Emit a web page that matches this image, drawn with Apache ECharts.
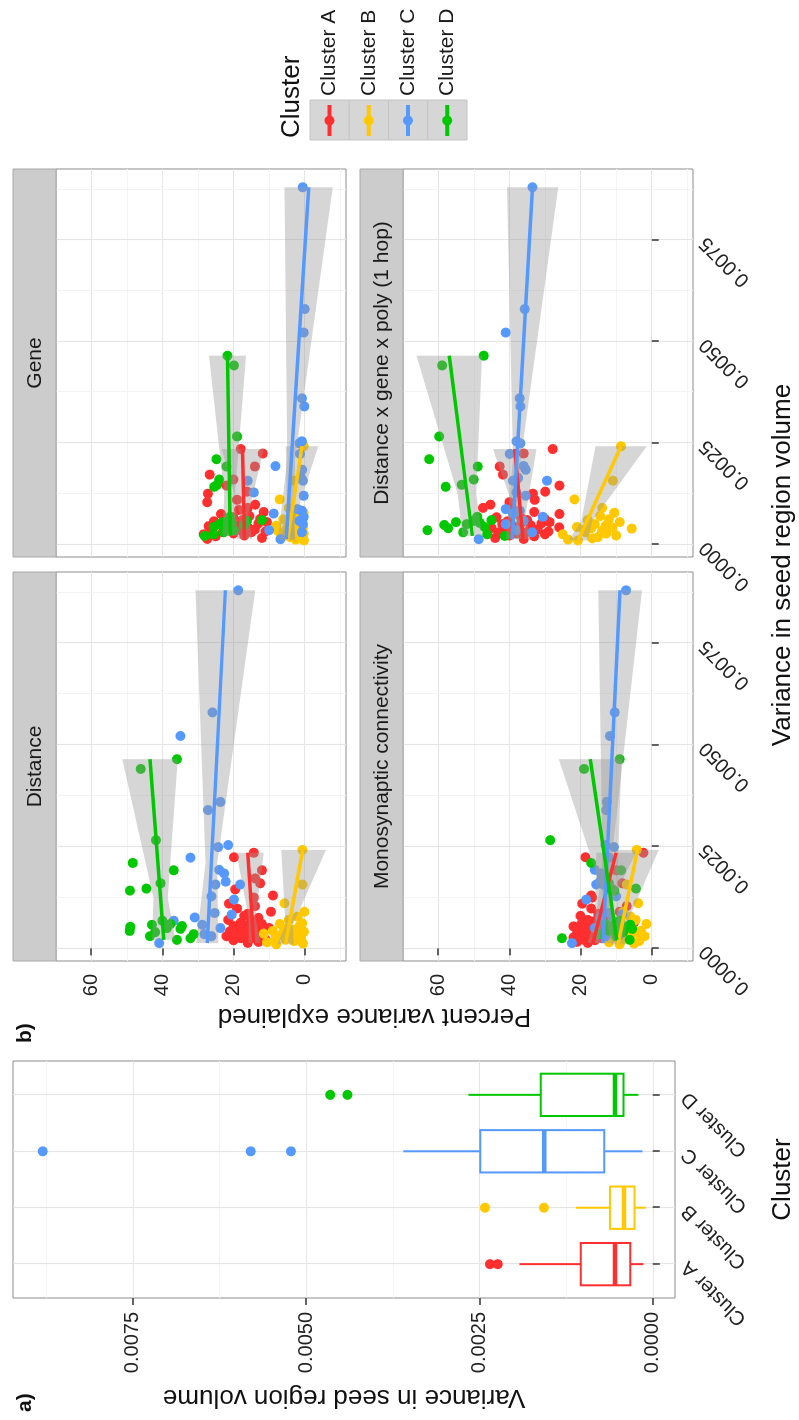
<!DOCTYPE html>
<html>
<head>
<meta charset="utf-8">
<script src="https://cdn.jsdelivr.net/npm/echarts@6/dist/echarts.min.js"></script>
<style>
  html, body { margin: 0; padding: 0; width: 799px; height: 1420px; overflow: hidden; background: #fff; }
  /* the figure is laid out landscape, then turned a quarter turn counter-clockwise */
  #chart { position: absolute; left: 0; top: 0; width: 1420px; height: 799px;
           transform-origin: 0 0; transform: translate(0, 1420px) rotate(-90deg); }
</style>
</head>
<body>
<div id="chart"></div>
<script>
const clusters = ['Cluster A', 'Cluster B', 'Cluster C', 'Cluster D']
const colors = ['#ff2f2f', '#ffc800', '#5599ff', '#00c800']

// variance in seed region volume, one value per sample
const varA = [0.000135, 0.00016, 0.0002, 0.00022, 0.00025, 0.00027, 0.0003, 0.00031, 0.00032, 0.00033, 0.00035, 0.00037, 0.0004, 0.00042, 0.00045, 0.00047, 0.0005, 0.00052, 0.00054, 0.00055, 0.00057, 0.0006, 0.00063, 0.00067, 0.0007, 0.00075, 0.0008, 0.00085, 0.0009, 0.00098, 0.00104, 0.0011, 0.00125, 0.0013, 0.00145, 0.0016, 0.00172, 0.00192, 0.00224, 0.00235]
const varB = [0.0001, 0.00012, 0.00015, 0.00018, 0.00022, 0.00025, 0.00027, 0.0003, 0.00033, 0.00036, 0.00039, 0.0004, 0.00041, 0.00043, 0.00046, 0.0005, 0.00055, 0.0006, 0.00062, 0.0007, 0.00078, 0.0009, 0.00111, 0.00157, 0.00242]
const varC = [0.00013, 0.0003, 0.00035, 0.0005, 0.00058, 0.00068, 0.00076, 0.00083, 0.00087, 0.0012, 0.00128, 0.00157, 0.00157, 0.00164, 0.00184, 0.00193, 0.00223, 0.00249, 0.00254, 0.0034, 0.0036, 0.00522, 0.0058, 0.0088]
const varD = [0.00021, 0.00025, 0.0003, 0.00035, 0.0004, 0.00043, 0.00048, 0.0005, 0.00053, 0.00055, 0.00058, 0.0006, 0.00068, 0.00142, 0.00147, 0.0016, 0.00192, 0.0021, 0.00266, 0.00441, 0.00465]

// panel a boxplots: [min, Q1, median, Q3, max] and outliers
const boxA = [0.000135, 0.000327, 0.000544, 0.001039, 0.001924]
const boxB = [0.0001, 0.000265, 0.000414, 0.000616, 0.00111]
const boxC = [0.00015, 0.000702, 0.001568, 0.00249, 0.0036]
const boxD = [0.000208, 0.000424, 0.000544, 0.001616, 0.00266]
const outA = [0.002236, 0.00235]
const outB = [0.00157, 0.00242]
const outC = [0.00522, 0.0058, 0.0088]
const outD = [0.004405, 0.004654]

// percent variance explained, same sample order as varA..varD
const distA = [16, 13, 20, 11, 18, 15, 22, 14, 17, 12, 19, 16, 13, 21, 15, 18, 10, 17, 14, 20, 16, 12, 18, 15, 21.5, 13, 17, 16, 9.5, 19, 14, 21.3, 14.3, 8.9, 19.5, 12.5, 13.9, 12.0, 19.9, 14.3]
const distB = [8, 0.5, 10.6, 3, 5.4, 8.2, 1, 7.8, 4, 11.5, 2.5, 6, 0.2, 9, 3.1, 5, 1.5, 7, 0.7, 4.5, 2, 0.1, 5.7, 0.6, 0.6]
const distC = [40.9, 26.2, 28.2, 23.7, 28.8, 36.8, 30.9, 20.5, 25.3, 19.9, 26.2, 25.1, 18.1, 22.2, 22.6, 24.0, 32.1, 24.3, 21.5, 27.2, 23.7, 34.9, 25.9, 18.7]
const distD = [35.9, 32.1, 43.5, 31.2, 42.0, 49.2, 34.9, 38.7, 49.0, 34.5, 42.9, 37.7, 40.0, 49.1, 44.5, 40.5, 36.8, 48.3, 41.8, 46.1, 35.9]

const geneA = [27.4, 12, 25, 17, 28.4, 20, 15, 23, 11, 26, 18, 14, 22, 16, 27, 19, 24, 13, 21, 10.6, 25.5, 17.5, 12.5, 20, 15.5, 23.5, 11.5, 18.5, 16, 13.9, 27.4, 19, 27.2, 16.2, 22, 20, 26.7, 14, 11.8, 18]
const geneB = [0.2, 2.5, 0.5, 4, 1, 6.5, 0.3, 3, 7.5, 1.5, 0.8, 5, 2, 0.4, 8, 1.2, 3.5, 0.6, 6, 2.2, 0.3, 4.5, 7.0, 3, 0.3]
const geneC = [6.8, 0.8, 10.0, 0.5, 1.5, 0.3, 8.7, 0.8, 2, 0.3, 14.3, 16, 0.5, 1, 0.7, 8.2, 1.3, 1.5, 0.8, 0.1, 0.75, 0.3, 0, 0.56]
const geneD = [28.1, 25.6, 22.8, 19.9, 21.8, 25.6, 17, 24, 20.5, 23, 16.2, 12, 21, 25.4, 24.6, 24, 22, 24.8, 19, 19.9, 21.7]

const monoA = [18, 21, 16, 19.5, 14, 22, 17, 20, 15, 18.5, 16, 21, 19, 17.5, 13, 20, 18, 15.5, 22, 17, 14.5, 19.8, 5, 16, 18, 12, 20, 15, 9, 17, 7, 19.5, 16.7, 17.0, 11, 8.3, 14, 10, 18.6, 2.3]
const monoB = [9, 5, 12, 3.5, 8, 6, 10.5, 2, 7, 11, 4, 8.5, 6.5, 3, 9.5, 5.5, 7.5, 1.5, 10, 4.5, 6, 8, 3.8, 7, 4.2]
const monoC = [22.4, 13, 9, 16, 6.2, 11, 14.5, 8.3, 12, 18.4, 10, 15.6, 13.5, 14.5, 14.2, 16, 12, 10.6, 13, 12.8, 12.6, 11.7, 10.4, 7.2]
const monoD = [6.2, 25.2, 10, 14.6, 8, 12, 5.5, 9, 7, 11, 6, 13, 9, 10.5, 4.4, 12, 8.6, 17.0, 28.5, 19.0, 9.0]

const dgpA = [36, 44, 33, 40, 30, 38, 43, 35, 29, 41, 37, 32, 45, 26, 39, 34, 42, 31, 36.5, 28.7, 40.5, 35, 30.1, 43.6, 37, 25.9, 33, 39, 47.4, 45.3, 40, 32.9, 33.4, 29.9, 25.9, 38, 41.8, 42.7, 36, 27.8]
const dgpB = [20.7, 23.5, 16.7, 15.1, 10, 25, 12.8, 18.7, 14, 19, 5.6, 17, 11, 21, 13, 16, 9, 18, 12, 14.5, 10.5, 13.9, 21.7, 10.9, 8.6]
const dgpC = [48.6, 33.6, 38, 41, 36, 30.6, 39, 37, 41, 35.4, 38, 29.4, 39, 37.5, 35.4, 36, 39.9, 36.9, 38, 36.9, 37.1, 41.0, 35.7, 33.5]
const dgpD = [41.3, 46.2, 53, 63, 57.2, 47, 58.3, 52, 48.3, 55, 50, 45, 49, 57.9, 53.4, 50, 48.9, 62.5, 59.7, 58.9, 47.2]

// lm fit lines per cluster: [x0, y0, x1, y1]
const fitDist = [[0.000135, 14.3, 0.00235, 16.0], [0.0001, 5.4, 0.00242, 0.56], [0.00013, 27.4, 0.0088, 22.3], [0.00021, 39.6, 0.00465, 43.5]]
const fitGene = [[0.000135, 16.9, 0.00235, 17.5], [0.0001, 4.8, 0.00242, 0.75], [0.00013, 5.2, 0.0088, -1.1], [0.00021, 20.9, 0.00465, 21.7]]
const fitMono = [[0.000135, 16.5, 0.00235, 10.0], [0.0001, 9.5, 0.00242, 4.0], [0.00013, 13.7, 0.0088, 8.9], [0.00021, 9.8, 0.00465, 17.3]]
const fitDgp = [[0.000135, 36.2, 0.00235, 38.5], [0.0001, 20.7, 0.00242, 8.6], [0.00013, 39.2, 0.0088, 33.5], [0.00021, 50.4, 0.00465, 56.9]]

// confidence bands, rows of [x, lower, upper]
const bandDist = [
  [[0.000135, 12.5, 15.7], [0.00076, 13.8, 15.8], [0.00235, 11.5, 19.2]],
  [[0.0001, 3.1, 7.7], [0.00057, 3.4, 5.4], [0.00242, -6.0, 6.6]],
  [[0.00013, 24.3, 30.5], [0.0021, 24.6, 27.9], [0.0088, 13.9, 30.7]],
  [[0.00021, 36.3, 42.9], [0.00124, 38.5, 42.5], [0.00465, 35.7, 51.3]]
]
const bandGene = [
  [[0.000135, 14.8, 19.0], [0.00076, 15.8, 18.3], [0.00235, 11.5, 23.3]],
  [[0.0001, 2.6, 7.0], [0.00057, 3.0, 5.0], [0.00242, -3.8, 5.3]],
  [[0.00013, 2.9, 7.5], [0.0021, 2.7, 4.9], [0.0088, -7.9, 5.7]],
  [[0.00021, 18.7, 23.1], [0.00124, 19.6, 22.6], [0.00465, 16.5, 26.9]]
]
const bandMono = [
  [[0.000135, 15.0, 18.0], [0.00076, 13.4, 15.9], [0.00235, 4.4, 15.6]],
  [[0.0001, 7.6, 11.4], [0.00057, 7.2, 9.6], [0.00242, -2.0, 10.0]],
  [[0.00013, 10.9, 16.5], [0.0021, 11.4, 13.8], [0.0088, 2.7, 15.0]],
  [[0.00021, 7.9, 11.7], [0.00124, 9.8, 13.3], [0.00465, 8.5, 26.1]]
]
const bandDgp = [
  [[0.000135, 34.3, 38.1], [0.00076, 35.4, 38.3], [0.00235, 32.4, 44.6]],
  [[0.0001, 18.0, 23.4], [0.00057, 16.7, 19.8], [0.00242, 1.4, 15.8]],
  [[0.00013, 37.4, 41.0], [0.0021, 36.8, 39.0], [0.0088, 26.3, 40.7]],
  [[0.00021, 47.6, 53.2], [0.00124, 49.3, 54.5], [0.00465, 47.7, 66.1]]
]

// tick values
const varTicks = [0, 0.0025, 0.005, 0.0075]
const varMinor = [0.00125, 0.00375, 0.00625, 0.00875]
const pctTicks = [0, 20, 40, 60]
const pctMinor = [-10, 10, 30, 50]

const FONT = "'Liberation Sans', Arial, Helvetica, sans-serif"
const xs = [varA, varB, varC, varD]

const facets = [
  { name: 'Distance', ys: [distA, distB, distC, distD], fit: fitDist, band: bandDist, left: 459, top: 56, width: 389, yLab: true, xLab: false },
  { name: 'Gene', ys: [geneA, geneB, geneC, geneD], fit: fitGene, band: bandGene, left: 863, top: 56, width: 388, yLab: false, xLab: false },
  { name: 'Monosynaptic connectivity', ys: [monoA, monoB, monoC, monoD], fit: fitMono, band: bandMono, left: 459, top: 403, width: 389, yLab: true, xLab: true },
  { name: 'Distance x gene x poly (1 hop)', ys: [dgpA, dgpB, dgpC, dgpD], fit: fitDgp, band: bandDgp, left: 863, top: 403, width: 388, yLab: false, xLab: true }
]

const grids = []
const xAxes = []
const yAxes = []
const series = []
const graphic = []

function addAxis (list, gridIndex, min, max, major, minor, label) {
  const idx = list.length
  list.push({
    type: 'value', gridIndex, min, max,
    axisLine: { show: false },
    axisTick: { show: !!label, customValues: major, length: 7, lineStyle: { color: '#333', width: 1.5 } },
    axisLabel: label
      ? Object.assign({ show: true, customValues: major, fontSize: 20, color: '#222', fontFamily: FONT }, label)
      : { show: false, customValues: major },
    splitLine: { show: true, lineStyle: { color: '#e5e5e5', width: 1.2 } }
  })
  if (minor.length) {
    list.push({
      type: 'value', gridIndex, min, max,
      axisLine: { show: false },
      axisTick: { show: false, customValues: minor },
      axisLabel: { show: false, customValues: minor },
      splitLine: { show: true, lineStyle: { color: '#f3f3f3', width: 1 } }
    })
  }
  return idx
}

function panelGrid (left, top, width, height) {
  grids.push({ left, top, width, height, show: true, backgroundColor: '#fff', borderColor: '#8c8c8c', borderWidth: 1, containLabel: false, outerBoundsMode: 'none' })
  return grids.length - 1
}

function bandItem (params, api) {
  if (params.dataIndexInside !== 0) return null
  const upper = []
  const lower = []
  for (let i = 0; i < params.dataInsideLength; i++) {
    upper.push(api.coord([api.value(0, i), api.value(2, i)]))
    lower.unshift(api.coord([api.value(0, i), api.value(1, i)]))
  }
  return { type: 'polygon', shape: { points: upper.concat(lower) }, style: { fill: 'rgba(153,153,153,0.4)' } }
}

function text (str, x, y, size, opts) {
  graphic.push(Object.assign({
    type: 'text', x, y, z: 10,
    style: Object.assign({ text: str, fontSize: size, fontFamily: FONT, fill: '#111', align: 'center', verticalAlign: 'middle' }, (opts && opts.style) || {})
  }, (opts && opts.el) || {}))
}

// ---- panel a: boxplots ----
const ga = panelGrid(122, 13, 237, 662)
const xa = addAxis(xAxes, ga, 0.4, 4.6, [1, 2, 3, 4], [], { formatter: v => clusters[Math.round(v) - 1], rotate: 45, margin: 10 })
const ya = addAxis(yAxes, ga, -0.00032, 0.00923, varTicks, varMinor, { formatter: v => v.toFixed(4), margin: 14 })

const boxes = [boxA, boxB, boxC, boxD]
series.push({
  type: 'custom', xAxisIndex: xa, yAxisIndex: ya, silent: true, z: 3,
  data: boxes.map((b, i) => [i + 1].concat(b)),
  encode: { x: 0, y: [1, 2, 3, 4, 5] },
  renderItem: function (params, api) {
    const pos = api.value(0)
    const lo = api.coord([pos, api.value(1)])
    const q1 = api.coord([pos, api.value(2)])
    const md = api.coord([pos, api.value(3)])
    const q3 = api.coord([pos, api.value(4)])
    const hi = api.coord([pos, api.value(5)])
    const half = api.size([0.75, 0])[0] / 2
    const c = colors[params.dataIndex]
    return {
      type: 'group',
      children: [
        { type: 'line', shape: { x1: lo[0], y1: lo[1], x2: q1[0], y2: q1[1] }, style: { stroke: c, lineWidth: 2 } },
        { type: 'line', shape: { x1: q3[0], y1: q3[1], x2: hi[0], y2: hi[1] }, style: { stroke: c, lineWidth: 2 } },
        { type: 'rect', shape: { x: q3[0] - half, y: q3[1], width: half * 2, height: q1[1] - q3[1] }, style: { fill: '#fff', stroke: c, lineWidth: 2 } },
        { type: 'line', shape: { x1: md[0] - half, y1: md[1], x2: md[0] + half, y2: md[1] }, style: { stroke: c, lineWidth: 4.5 } }
      ]
    }
  }
})
const outs = [outA, outB, outC, outD]
outs.forEach((o, i) => {
  series.push({
    type: 'scatter', name: clusters[i], xAxisIndex: xa, yAxisIndex: ya, silent: true, z: 4,
    data: o.map(v => [i + 1, v]), symbolSize: 10, itemStyle: { color: colors[i], opacity: 1 }
  })
})

// ---- panel b: facets ----
facets.forEach(f => {
  const gi = panelGrid(f.left, f.top, f.width, 290)
  const xi = addAxis(xAxes, gi, -0.00031, 0.00925, varTicks, varMinor, f.xLab ? { formatter: v => v.toFixed(4), rotate: 45, margin: 10 } : null)
  const yi = addAxis(yAxes, gi, -11.6, 69.9, pctTicks, pctMinor, f.yLab ? { margin: 13 } : null)

  for (let c = 0; c < 4; c++) {
    series.push({
      type: 'scatter', name: clusters[c], xAxisIndex: xi, yAxisIndex: yi, silent: true, z: 2,
      data: xs[c].map((x, j) => [x, f.ys[c][j]]), symbolSize: 10, itemStyle: { color: colors[c], opacity: 1 }
    })
  }
  for (let c = 0; c < 4; c++) {
    series.push({
      type: 'custom', xAxisIndex: xi, yAxisIndex: yi, silent: true, z: 3, clip: true,
      data: f.band[c], encode: { x: 0, y: [1, 2] }, renderItem: bandItem
    })
  }
  for (let c = 0; c < 4; c++) {
    const L = f.fit[c]
    series.push({
      type: 'line', xAxisIndex: xi, yAxisIndex: yi, silent: true, z: 4,
      data: [[L[0], L[1]], [L[2], L[3]]], symbol: 'none',
      lineStyle: { color: colors[c], width: 3.5 }
    })
  }

  // facet strip
  const stripTop = f.top - 43
  graphic.push({ type: 'rect', z: 1, shape: { x: f.left, y: stripTop, width: f.width, height: 43 }, style: { fill: '#cccccc', stroke: '#a8a8a8', lineWidth: 1 } })
  text(f.name, f.left + f.width / 2, stripTop + 22, 21, { style: { fill: '#1a1a1a' } })
})

// ---- titles ----
text('Variance in seed region volume', 23, 344, 26, { el: { rotation: Math.PI / 2 } })
text('Cluster', 240.5, 783, 26)
text('Percent variance explained', 404, 374.5, 26, { el: { rotation: Math.PI / 2 } })
text('Variance in seed region volume', 855, 783, 26)
text('a)', 8, 25, 21, { style: { align: 'left', fontWeight: 'bold' } })
text('b)', 377, 25, 21, { style: { align: 'left', fontWeight: 'bold' } })

// ---- legend ----
text('Cluster', 1282, 292, 26, { style: { align: 'left' } })
for (let i = 0; i < 4; i++) {
  graphic.push({ type: 'rect', z: 1, shape: { x: 1280, y: 310 + i * 39.25, width: 40, height: 39.25 }, style: { fill: '#d6d6d6', stroke: '#c4c4c4', lineWidth: 1 } })
}
// key glyph: a bar with a dot; both sub-paths wound the same way so the dot stays filled
const keyIcon = 'path://M0,3H31V7H0Z M10.5,5a5,5 0 1,1 10,0a5,5 0 1,1 -10,0Z'

const chart = echarts.init(document.getElementById('chart'))
chart.setOption({
  animation: false,
  backgroundColor: '#fff',
  textStyle: { fontFamily: FONT },
  grid: grids,
  xAxis: xAxes,
  yAxis: yAxes,
  legend: {
    orient: 'vertical', left: 1284, top: 319, padding: 0,
    itemWidth: 31, itemHeight: 10, itemGap: 18.25, selectedMode: false, z: 5,
    textStyle: { fontSize: 21, color: '#1a1a1a', fontFamily: FONT, lineHeight: 21, padding: [0, 0, 0, 4] },
    data: clusters.map((n, i) => ({ name: n, icon: keyIcon, itemStyle: { color: colors[i] } }))
  },
  graphic: graphic,
  series: series
})
</script>
</body>
</html>
